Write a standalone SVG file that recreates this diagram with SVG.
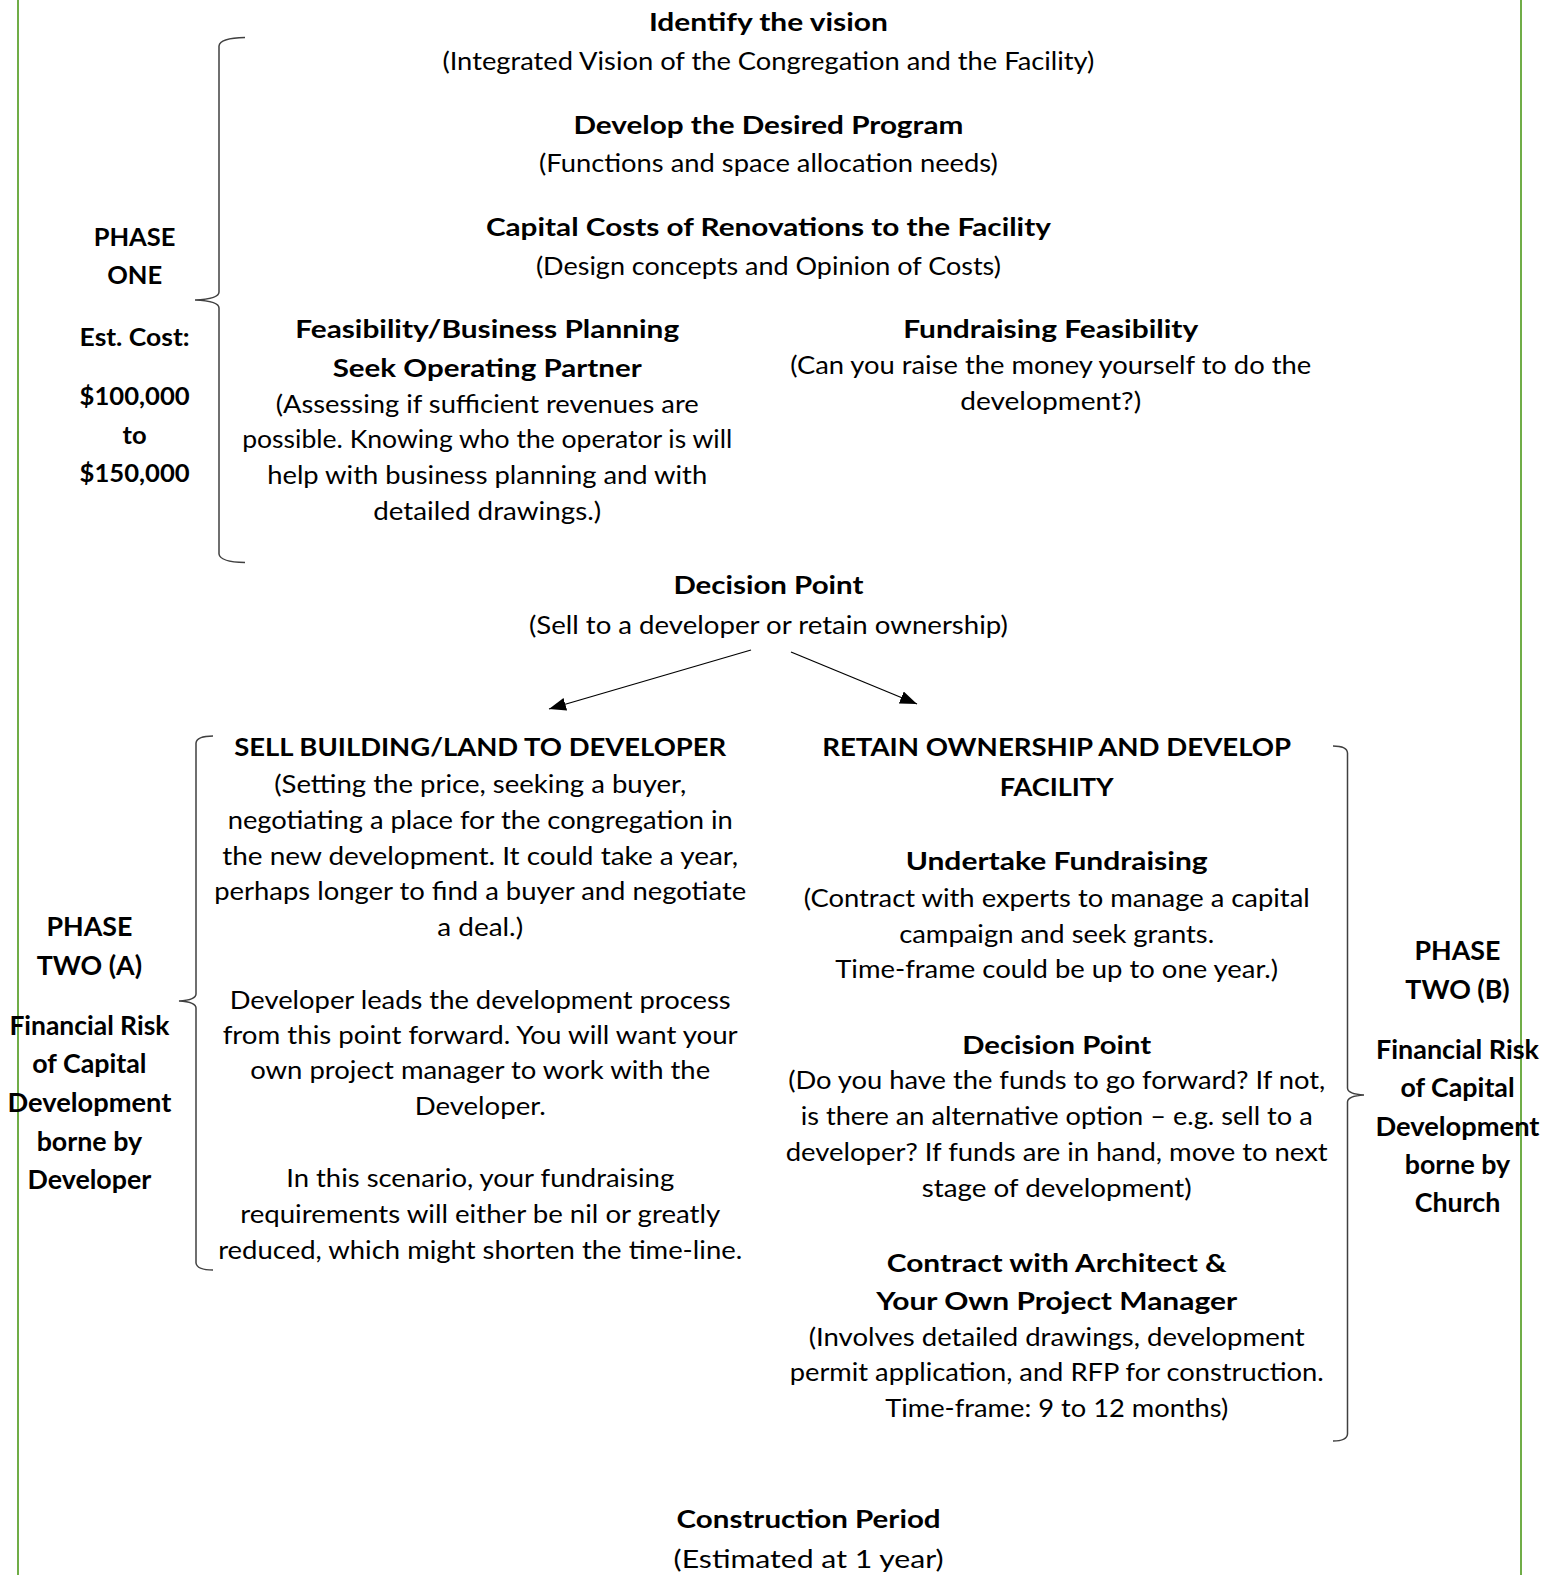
<svg xmlns="http://www.w3.org/2000/svg" width="1555" height="1575" viewBox="0 0 1555 1575">
<style>
text{font-family:Lato,"Liberation Sans",sans-serif;font-size:25.5px;fill:#000;text-anchor:middle}
.b{font-weight:bold}
.p2{font-size:26.8px}
.brace{fill:none;stroke:#404040;stroke-width:1.5}
.conn{stroke:#000;stroke-width:1.3;fill:none}
.edge{stroke:#70AD47;stroke-width:2}
</style>
<defs>
<marker id="ah" markerUnits="userSpaceOnUse" markerWidth="18" markerHeight="14" refX="17" refY="6.5" orient="auto">
<path d="M0,0 L17,6.5 L0,13 Z" fill="#000"/>
</marker>
</defs>
<rect x="0" y="0" width="1555" height="1575" fill="#fff"/>
<line class="edge" x1="18" y1="0" x2="18" y2="1575"/>
<line class="edge" x1="1521" y1="0" x2="1521" y2="1575"/>

<g id="vision">
<text class="b" x="768.4" y="31" textLength="239" lengthAdjust="spacingAndGlyphs">Identify the vision</text>
<text x="768.4" y="70.3" textLength="652" lengthAdjust="spacingAndGlyphs">(Integrated Vision of the Congregation and the Facility)</text>
</g>
<g id="program">
<text class="b" x="768.4" y="133.6" textLength="390" lengthAdjust="spacingAndGlyphs">Develop the Desired Program</text>
<text x="768.4" y="171.8" textLength="459" lengthAdjust="spacingAndGlyphs">(Functions and space allocation needs)</text>
</g>
<g id="capital">
<text class="b" x="768.4" y="236.1" textLength="565" lengthAdjust="spacingAndGlyphs">Capital Costs of Renovations to the Facility</text>
<text x="768.4" y="275.2" textLength="465" lengthAdjust="spacingAndGlyphs">(Design concepts and Opinion of Costs)</text>
</g>
<g id="feasibility">
<text class="b" x="487.2" y="337.5" textLength="384" lengthAdjust="spacingAndGlyphs">Feasibility/Business Planning</text>
<text class="b" x="487.2" y="376.7" textLength="309" lengthAdjust="spacingAndGlyphs">Seek Operating Partner</text>
<text x="487.2" y="412.8" textLength="423" lengthAdjust="spacingAndGlyphs">(Assessing if sufficient revenues are</text>
<text x="487.2" y="448" textLength="490" lengthAdjust="spacingAndGlyphs">possible. Knowing who the operator is will</text>
<text x="487.2" y="484.2" textLength="440" lengthAdjust="spacingAndGlyphs">help with business planning and with</text>
<text x="487.2" y="520.3" textLength="228" lengthAdjust="spacingAndGlyphs">detailed drawings.)</text>
</g>
<g id="fundraising-feasibility">
<text class="b" x="1050.7" y="337.5" textLength="295" lengthAdjust="spacingAndGlyphs">Fundraising Feasibility</text>
<text x="1050.7" y="373.7" textLength="521" lengthAdjust="spacingAndGlyphs">(Can you raise the money yourself to do the</text>
<text x="1050.7" y="409.8" textLength="181" lengthAdjust="spacingAndGlyphs">development?)</text>
</g>
<g id="phase-one">
<path class="brace" d="M245,37.5 Q220,38 219,46 L219,292 Q219,299 195,300 Q219,301 219,308 L219,554 Q220,562 245,562.5"/>
<text class="b" x="134.6" y="246.1">PHASE</text>
<text class="b" x="134.6" y="284.3">ONE</text>
<text class="b" x="134.6" y="345.5" textLength="110" lengthAdjust="spacingAndGlyphs">Est. Cost:</text>
<text class="b" x="134.6" y="404.8" textLength="110" lengthAdjust="spacingAndGlyphs">$100,000</text>
<text class="b" x="134.6" y="444">to</text>
<text class="b" x="134.6" y="482.2" textLength="110" lengthAdjust="spacingAndGlyphs">$150,000</text>
</g>
<g id="decision-1">
<text class="b" x="768.4" y="593.7" textLength="190" lengthAdjust="spacingAndGlyphs">Decision Point</text>
<text x="768.4" y="633.8" textLength="479" lengthAdjust="spacingAndGlyphs">(Sell to a developer or retain ownership)</text>
</g>
<g id="sell">
<text class="b" x="480.2" y="756.4" textLength="492" lengthAdjust="spacingAndGlyphs">SELL BUILDING/LAND TO DEVELOPER</text>
<text x="480.2" y="792.6" textLength="412" lengthAdjust="spacingAndGlyphs">(Setting the price, seeking a buyer,</text>
<text x="480.2" y="828.7" textLength="505" lengthAdjust="spacingAndGlyphs">negotiating a place for the congregation in</text>
<text x="480.2" y="864.9" textLength="516" lengthAdjust="spacingAndGlyphs">the new development. It could take a year,</text>
<text x="480.2" y="900" textLength="532" lengthAdjust="spacingAndGlyphs">perhaps longer to find a buyer and negotiate</text>
<text x="480.2" y="936.2" textLength="86" lengthAdjust="spacingAndGlyphs">a deal.)</text>
<text x="480.2" y="1008.5" textLength="501" lengthAdjust="spacingAndGlyphs">Developer leads the development process</text>
<text x="480.2" y="1043.7" textLength="515" lengthAdjust="spacingAndGlyphs">from this point forward. You will want your</text>
<text x="480.2" y="1078.8" textLength="460" lengthAdjust="spacingAndGlyphs">own project manager to work with the</text>
<text x="480.2" y="1115" textLength="131" lengthAdjust="spacingAndGlyphs">Developer.</text>
<text x="480.2" y="1187.3" textLength="388" lengthAdjust="spacingAndGlyphs">In this scenario, your fundraising</text>
<text x="480.2" y="1222.5" textLength="480" lengthAdjust="spacingAndGlyphs">requirements will either be nil or greatly</text>
<text x="480.2" y="1258.6" textLength="524" lengthAdjust="spacingAndGlyphs">reduced, which might shorten the time-line.</text>
</g>
<g id="phase-two-a">
<path class="brace" d="M213,736 Q197,736 196,743 L196,994 Q196,1000 179,1001 Q196,1002 196,1008 L196,1263 Q197,1270 213,1270"/>
<text class="b p2" x="89.4" y="936.2">PHASE</text>
<text class="b p2" x="89.4" y="975.4">TWO (A)</text>
<text class="b p2" x="89.4" y="1034.6" textLength="160" lengthAdjust="spacingAndGlyphs">Financial Risk</text>
<text class="b p2" x="89.4" y="1072.8">of Capital</text>
<text class="b p2" x="89.4" y="1112" textLength="164" lengthAdjust="spacingAndGlyphs">Development</text>
<text class="b p2" x="89.4" y="1151.2">borne by</text>
<text class="b p2" x="89.4" y="1189.3">Developer</text>
</g>
<g id="retain">
<text class="b" x="1056.7" y="756.4" textLength="469" lengthAdjust="spacingAndGlyphs">RETAIN OWNERSHIP AND DEVELOP</text>
<text class="b" x="1056.7" y="795.6" textLength="114" lengthAdjust="spacingAndGlyphs">FACILITY</text>
</g>
<g id="undertake">
<text class="b" x="1056.7" y="869.9" textLength="302" lengthAdjust="spacingAndGlyphs">Undertake Fundraising</text>
<text x="1056.7" y="907.1" textLength="506" lengthAdjust="spacingAndGlyphs">(Contract with experts to manage a capital</text>
<text x="1056.7" y="943.2" textLength="315" lengthAdjust="spacingAndGlyphs">campaign and seek grants.</text>
<text x="1056.7" y="978.4" textLength="443" lengthAdjust="spacingAndGlyphs">Time-frame could be up to one year.)</text>
</g>
<g id="decision-2">
<text class="b" x="1056.7" y="1053.7" textLength="189" lengthAdjust="spacingAndGlyphs">Decision Point</text>
<text x="1056.7" y="1088.9" textLength="537" lengthAdjust="spacingAndGlyphs">(Do you have the funds to go forward? If not,</text>
<text x="1056.7" y="1125" textLength="512" lengthAdjust="spacingAndGlyphs">is there an alternative option – e.g. sell to a</text>
<text x="1056.7" y="1161.2" textLength="542" lengthAdjust="spacingAndGlyphs">developer? If funds are in hand, move to next</text>
<text x="1056.7" y="1197.4" textLength="270" lengthAdjust="spacingAndGlyphs">stage of development)</text>
</g>
<g id="architect">
<text class="b" x="1056.7" y="1271.7" textLength="340" lengthAdjust="spacingAndGlyphs">Contract with Architect &amp;</text>
<text class="b" x="1056.7" y="1309.9" textLength="361" lengthAdjust="spacingAndGlyphs">Your Own Project Manager</text>
<text x="1056.7" y="1346" textLength="496" lengthAdjust="spacingAndGlyphs">(Involves detailed drawings, development</text>
<text x="1056.7" y="1381.2" textLength="534" lengthAdjust="spacingAndGlyphs">permit application, and RFP for construction.</text>
<text x="1056.7" y="1417.3" textLength="343" lengthAdjust="spacingAndGlyphs">Time-frame: 9 to 12 months)</text>
</g>
<g id="phase-two-b">
<path class="brace" d="M1333,746 Q1347,746 1347.5,753 L1347.5,1088 Q1347.5,1094 1364,1095 Q1347.5,1096 1347.5,1102 L1347.5,1434 Q1347,1441 1333,1441"/>
<text class="b p2" x="1457.5" y="960.3">PHASE</text>
<text class="b p2" x="1457.5" y="998.5">TWO (B)</text>
<text class="b p2" x="1457.5" y="1058.7" textLength="163" lengthAdjust="spacingAndGlyphs">Financial Risk</text>
<text class="b p2" x="1457.5" y="1096.9">of Capital</text>
<text class="b p2" x="1457.5" y="1136.1" textLength="164" lengthAdjust="spacingAndGlyphs">Development</text>
<text class="b p2" x="1457.5" y="1174.3">borne by</text>
<text class="b p2" x="1457.5" y="1212.4">Church</text>
</g>
<g id="construction">
<text class="b" x="808.6" y="1527.8" textLength="264" lengthAdjust="spacingAndGlyphs">Construction Period</text>
<text x="808.6" y="1568" textLength="270" lengthAdjust="spacingAndGlyphs">(Estimated at 1 year)</text>
</g>
<g id="connectors">
<line class="conn" x1="751" y1="650" x2="549" y2="709" marker-end="url(#ah)"/>
<line class="conn" x1="791" y1="652" x2="917" y2="704" marker-end="url(#ah)"/>
</g>
</svg>
